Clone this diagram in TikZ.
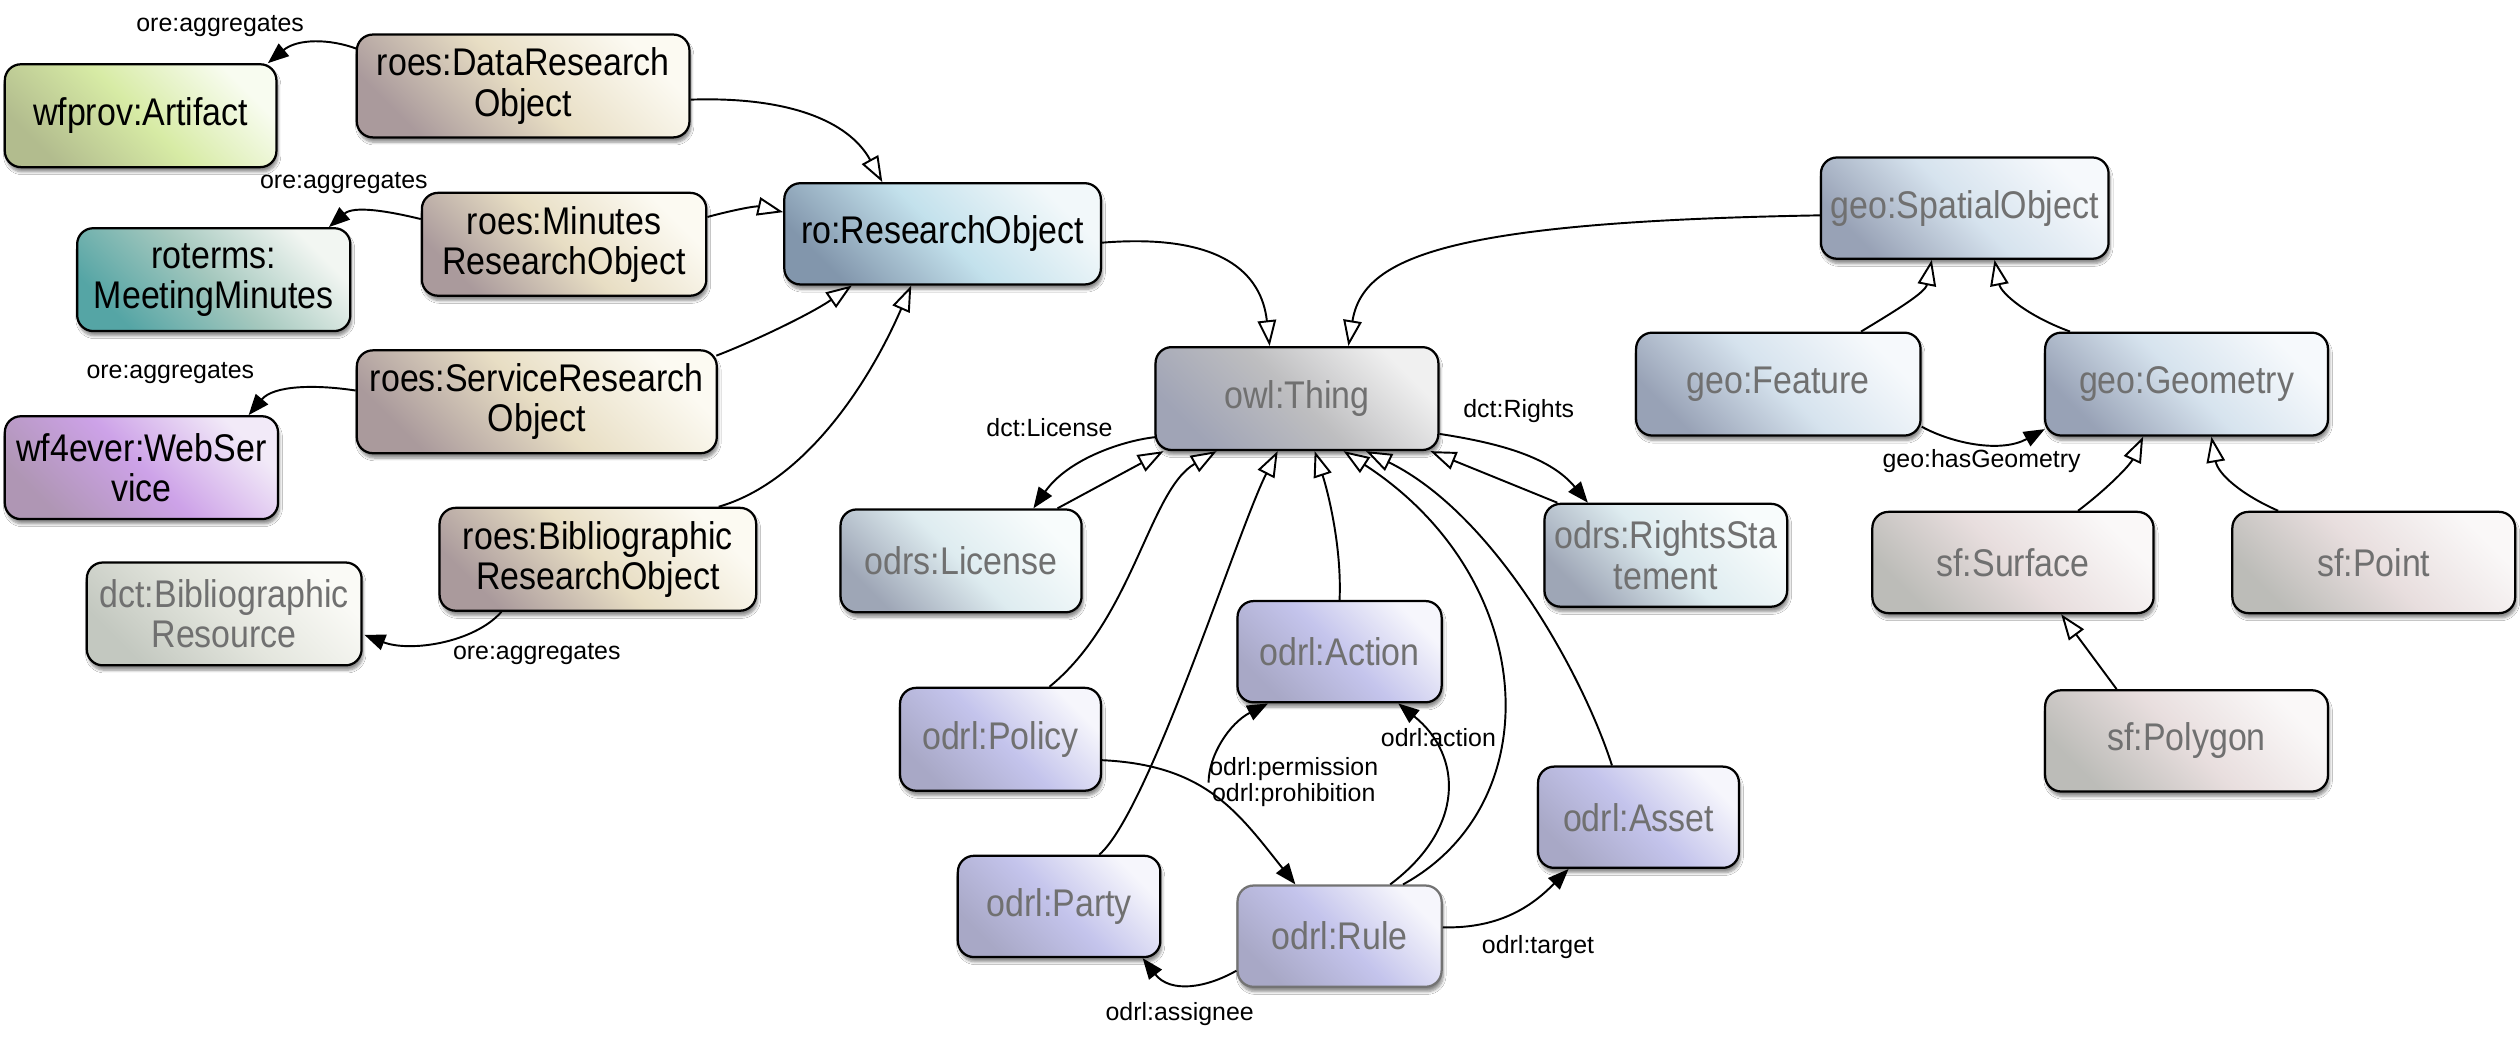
\documentclass[tikz,border=0pt]{standalone}
\usepackage{fontspec}
\newfontfamily\nodefont{Liberation Sans}[FakeStretch=0.88]
\newfontfamily\labelfont{Liberation Sans}
\usetikzlibrary{arrows.meta,calc,shadows.blur}
\definecolor{roesA}{RGB}{170,154,156}\definecolor{roesB}{RGB}{232,222,196}\definecolor{roesC}{RGB}{252,250,242}
\definecolor{wfA}{RGB}{178,188,142}\definecolor{wfB}{RGB}{215,235,165}\definecolor{wfC}{RGB}{248,252,240}
\definecolor{tealA}{RGB}{85,165,165}\definecolor{tealB}{RGB}{165,200,190}\definecolor{tealC}{RGB}{242,246,242}
\definecolor{purA}{RGB}{175,150,180}\definecolor{purB}{RGB}{205,162,232}\definecolor{purC}{RGB}{242,234,248}
\definecolor{dbA}{RGB}{195,200,192}\definecolor{dbB}{RGB}{228,230,222}\definecolor{dbC}{RGB}{250,250,246}
\definecolor{roA}{RGB}{130,150,172}\definecolor{roB}{RGB}{195,225,236}\definecolor{roC}{RGB}{242,248,250}
\definecolor{owlA}{RGB}{160,164,182}\definecolor{owlB}{RGB}{190,190,192}\definecolor{owlC}{RGB}{240,240,240}
\definecolor{odrsA}{RGB}{158,166,182}\definecolor{odrsB}{RGB}{222,236,240}\definecolor{odrsC}{RGB}{248,252,252}
\definecolor{odrlA}{RGB}{168,168,198}\definecolor{odrlB}{RGB}{196,196,236}\definecolor{odrlC}{RGB}{246,246,252}
\definecolor{geoA}{RGB}{152,162,182}\definecolor{geoB}{RGB}{214,227,238}\definecolor{geoC}{RGB}{246,249,252}
\definecolor{sfA}{RGB}{188,188,184}\definecolor{sfB}{RGB}{232,222,222}\definecolor{sfC}{RGB}{250,248,248}
\definecolor{txtgrey}{RGB}{112,112,112}
\tikzset{
  box/.style={draw=black, line width=1.4pt, rounded corners=10pt, inner sep=2pt, align=center,
    font=\nodefont\fontsize{24}{25}\selectfont,
    blur shadow={shadow xshift=1pt, shadow yshift=-3pt, shadow blur steps=6, shadow opacity=45}},
  grad/.style n args={3}{left color=#1, right color=#3, middle color=#2, shading angle=135},
  roes/.style={box, grad={roesA}{roesB}{roesC}},
  wfp/.style={box, grad={wfA}{wfB}{wfC}},
  teal/.style={box, grad={tealA}{tealB}{tealC}},
  purp/.style={box, grad={purA}{purB}{purC}},
  dbib/.style={box, grad={dbA}{dbB}{dbC}, text=txtgrey},
  robox/.style={box, grad={roA}{roB}{roC}},
  owlbox/.style={box, grad={owlA}{owlB}{owlC}, text=txtgrey},
  odrs/.style={box, grad={odrsA}{odrsB}{odrsC}, text=txtgrey},
  odrl/.style={box, grad={odrlA}{odrlB}{odrlC}, text=txtgrey},
  geo/.style={box, grad={geoA}{geoB}{geoC}, text=txtgrey},
  sfbox/.style={box, grad={sfA}{sfB}{sfC}, text=txtgrey},
  sz/.style 2 args={minimum width=#1pt, minimum height=#2pt},
  sub/.style={line width=1.2pt, -{Triangle[length=16pt,width=11.5pt,fill=white]}},
  prop/.style={line width=1.2pt, -{Triangle[length=13pt,width=10pt]}},
  lbl/.style={font=\labelfont\fontsize{15.5}{17}\selectfont, inner sep=1pt, align=center}
}
\begin{document}
\begin{tikzpicture}[x=1pt,y=-1pt]
\useasboundingbox (0,0) rectangle (1568,646.5);
\fill[white] (0,0) rectangle (1568,646.5);
% nodes
\node[wfp,  sz={169}{64}] (wfprov)  at (87.5,72)   {wfprov:Artifact};
\node[roes, sz={207}{64}] (dataro)  at (325.5,53.5){roes:DataResearch\\Object};
\node[teal, sz={170}{64}] (roterms) at (133,174)   {roterms:\\MeetingMinutes};
\node[roes, sz={177}{64}] (minro)   at (351,152)   {roes:Minutes\\ResearchObject};
\node[robox,sz={197}{63}] (ro)      at (586.5,145.5){ro:ResearchObject};
\node[roes, sz={224}{64}] (servro)  at (334,250)   {roes:ServiceResearch\\Object};
\node[purp, sz={170}{64}] (wfever)  at (88,291)    {wf4ever:WebSer\\vice};
\node[roes, sz={197}{64}] (bibro)   at (372,348)   {roes:Bibliographic\\ResearchObject};
\node[dbib, sz={171}{64}] (dctbib)  at (139.5,382) {dct:Bibliographic\\Resource};
\node[owlbox,sz={176}{64}] (owl)    at (807,248)   {owl:Thing};
\node[odrs, sz={150}{64}] (license) at (598,349)   {odrs:License};
\node[odrs, sz={151}{64}] (rights)  at (1036.5,345.5){odrs:RightsSta\\tement};
\node[odrl, sz={127}{63}] (action)  at (833.5,405.5){odrl:Action};
\node[odrl, sz={125}{64}] (policy)  at (622.5,460) {odrl:Policy};
\node[odrl, sz={125}{63}] (asset)   at (1019.5,508.5){odrl:Asset};
\node[odrl, sz={126}{63}] (party)   at (659,564)   {odrl:Party};
\node[odrl, sz={127}{63}, draw=black!55] (rule) at (833.5,582.5){odrl:Rule};
\node[geo,  sz={179}{63}] (so)      at (1222.5,129.5){geo:SpatialObject};
\node[geo,  sz={177}{64}] (feature) at (1106.5,239){geo:Feature};
\node[geo,  sz={176}{64}] (geometry) at (1360.5,239){geo:Geometry};
\node[sfbox,sz={175}{63}] (surface) at (1252.5,350){sf:Surface};
\node[sfbox,sz={176}{63}] (point)   at (1477,350)  {sf:Point};
\node[sfbox,sz={176}{63}] (polygon) at (1360.5,461){sf:Polygon};
% ore:aggregates
\draw[prop] ($(dataro.north west)+(0.5,9.5)$) .. controls (205,24) and (185,24) .. ($(wfprov.north east)+(-6,0)$);
\draw[prop] ($(minro.north west)+(0,17)$) .. controls (240,131) and (220,128) .. ($(roterms.north east)+(-14,0)$);
\draw[prop] ($(servro.west)+(0,-7)$) .. controls (195,239) and (170,240) .. ($(wfever.north east)+(-19,0)$);
\draw[prop] ($(bibro.south)+(-60,0)$) .. controls (295,400) and (255,406) .. ($(dctbib.east)+(1,13)$);
\node[lbl] (l1) at (137,16) {ore:aggregates};
\node[lbl] (l2) at (214,114) {ore:aggregates};
\node[lbl] (l3) at (106,232) {ore:aggregates};
\node[lbl] (l4) at (334,407) {ore:aggregates};
% subclass to ro
\draw[sub] ($(dataro.east)+(0,8.5)$) .. controls (490,60) and (528,75) .. ($(ro.north)+(-37.5,0)$);
\draw[sub] ($(minro.east)+(0,-17)$) .. controls (455,131) and (470,128) .. ($(ro.west)+(0,-13.5)$);
\draw[sub] ($(servro.north east)+(-1,4)$) .. controls (470,212) and (505,195) .. ($(ro.south)+(-56.5,0)$);
\draw[sub] ($(bibro.north east)+(-24,0)$) .. controls (500,300) and (540,240) .. ($(ro.south)+(-19.5,0)$);
% to owl
\draw[sub] ($(ro.east)+(0,5.5)$) .. controls (760,145) and (785,170) .. ($(owl.north)+(-17,0)$);
\draw[sub] ($(so.west)+(0,4.5)$) .. controls (900,138) and (848,160) .. ($(owl.north)+(32,0)$);
\draw[sub] ($(license.north)+(60,0)$) -- ($(owl.south)+(-83,0)$);
\draw[sub] ($(policy.north)+(30.5,0)$) .. controls (705,385) and (715,305) .. ($(owl.south)+(-50,0)$);
\draw[sub] ($(party.north)+(25,0)$) .. controls (715,505) and (770,330) .. ($(owl.south)+(-12,0)$);
\draw[sub] (action.north) .. controls (835,340) and (826,305) .. ($(owl.south)+(11,0)$);
\draw[sub] ($(rule.north)+(39.5,0)$) .. controls (965,500) and (958,360) .. ($(owl.south)+(29,0)$);
\draw[sub] ($(asset.north)+(-16.5,0)$) .. controls (985,420) and (930,320) .. ($(owl.south)+(43,0)$);
\draw[sub] ($(rights.north)+(-67.5,0)$) -- ($(owl.south)+(83,0)$);
% dct
\draw[prop] ($(owl.west)+(0.5,24)$) .. controls (700,274) and (665,285) .. ($(license.north)+(45,0)$);
\draw[prop] ($(owl.east)+(0,22)$) .. controls (935,276) and (965,285) .. ($(rights.north)+(-48.5,0)$);
\node[lbl] (l5) at (653,266) {dct:License};
\node[lbl] (l6) at (945,256) {dct:Rights};
% odrl
\draw[prop] ($(policy.east)+(0,13)$) .. controls (750,476) and (770,505) .. ($(rule.north)+(-27.5,0)$);
\coordinate (pp) at (752,487);
\draw[prop] (pp) .. controls (752,470) and (765,450) .. ($(action.south)+(-44.5,0)$);
\draw[prop] ($(rule.north)+(31.5,0)$) .. controls (912,515) and (910,470) .. ($(action.south)+(36.5,0)$);
\draw[prop] ($(rule.west)+(0,21.5)$) .. controls (750,615) and (728,618) .. ($(party.south)+(52,0)$);
\draw[prop] ($(rule.east)+(0,-5.5)$) .. controls (935,578) and (955,562) .. ($(asset.south)+(-43.5,0)$);
\node[lbl] (l7) at (805,486.5) {odrl:permission\\[-1pt]odrl:prohibition};
\node[lbl] (l8) at (895,459) {odrl:action};
\node[lbl] (l9) at (957,589) {odrl:target};
\node[lbl] (l10) at (734,631) {odrl:assignee};
% geo
\draw[sub] ($(feature.north)+(51.5,0)$) .. controls (1180,193) and (1198,182) .. ($(so.south)+(-20.5,0)$);
\draw[sub] ($(geometry.north)+(-72.5,0)$) .. controls (1260,196) and (1245,182) .. ($(so.south)+(18.5,0)$);
\draw[prop] ($(feature.east)+(0,26.5)$) .. controls (1215,276) and (1245,282) .. ($(geometry.west)+(0.5,28)$);
\node[lbl] (l11) at (1233,287) {geo:hasGeometry};
\draw[sub] ($(surface.north)+(40.5,0)$) .. controls (1310,305) and (1325,290) .. ($(geometry.south)+(-27,0)$);
\draw[sub] ($(point.north)+(-59.5,0)$) .. controls (1395,308) and (1380,295) .. ($(geometry.south)+(15.5,0)$);
\draw[sub] ($(polygon.north)+(-43.5,0)$) -- ($(surface.south)+(30,0)$);
\end{tikzpicture}
\end{document}
